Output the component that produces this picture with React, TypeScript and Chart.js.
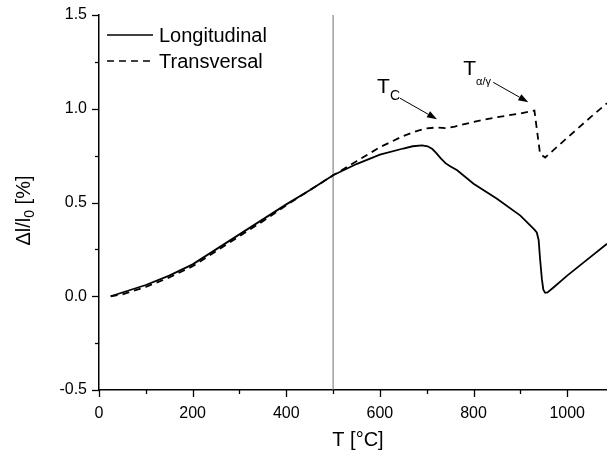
import React, { useEffect, useRef } from 'react';
import { Chart, registerables } from 'chart.js';
Chart.register(...registerables);

const FONT = '"Liberation Sans", Arial, sans-serif';

const seriesNames = ['Longitudinal', 'Transversal'];

const tempLong = [25, 50, 100, 150, 200, 250, 300, 350, 400, 450, 500, 550, 600, 650, 670, 690, 702, 712, 720, 730, 740, 750, 765, 800, 850, 900, 930, 935, 939, 942, 946, 949, 953, 958, 970, 1000, 1050, 1085];
const dilLong = [0.0, 0.02, 0.06, 0.11, 0.17, 0.25, 0.33, 0.41, 0.49, 0.565, 0.645, 0.705, 0.755, 0.788, 0.8, 0.805, 0.8, 0.785, 0.765, 0.735, 0.71, 0.693, 0.672, 0.6, 0.52, 0.43, 0.355, 0.34, 0.3, 0.2, 0.09, 0.035, 0.018, 0.02, 0.045, 0.11, 0.21, 0.28];

const tempTrans = [25, 50, 100, 150, 200, 250, 300, 350, 400, 450, 500, 550, 600, 650, 680, 700, 720, 740, 760, 800, 850, 900, 930, 942, 953, 1000, 1050, 1085];
const dilTrans = [0.0, 0.01, 0.05, 0.1, 0.16, 0.24, 0.32, 0.4, 0.485, 0.565, 0.645, 0.72, 0.795, 0.855, 0.882, 0.895, 0.9, 0.897, 0.905, 0.93, 0.955, 0.975, 0.99, 0.76, 0.74, 0.845, 0.955, 1.03];

const markerTemp = [500, 500];
const markerDil = [-0.5, 1.5];

const xMin = 0;
const xMax = 1085;
const yMin = -0.5;
const yMax = 1.5;
const xMinorStep = 100;
const yMinorStep = 0.25;
const xLabelStep = 200;
const yLabelStep = 0.5;

const xTitle = 'T [°C]';
const yTitleParts = ['Δl/l', '0', ' [%]'];

// annotation anchors in data units
const annotations = [
  { main: 'T', sub: 'C', subSize: 14, textX: 594, textY: 1.083, fromX: 643, fromY: 1.056, toX: 722, toY: 0.944 },
  { main: 'T', sub: 'α/γ', subSize: 11, textX: 778, textY: 1.179, fromX: 842, fromY: 1.141, toX: 917, toY: 1.035 },
];

const toPts = (xs: number[], ys: number[]) => xs.map((x, i) => ({ x, y: ys[i] }));
const isMultiple = (v: number, step: number) => Math.abs(v / step - Math.round(v / step)) < 1e-6;
const range = (a: number, b: number, s: number) => {
  const out: number[] = [];
  for (let i = 0; a + i * s <= b + 1e-9; i++) out.push(+(a + i * s).toFixed(6));
  return out;
};

const overlay = {
  id: 'overlay',
  afterDraw(chart: any) {
    const ctx = chart.ctx;
    const xs = chart.scales.x;
    const ys = chart.scales.y;
    const area = chart.chartArea;
    ctx.save();
    ctx.strokeStyle = '#000';
    ctx.lineWidth = 1.3;
    range(yMin, yMax, yMinorStep).forEach((v) => {
      const py = Math.round(ys.getPixelForValue(v)) + 0.5;
      const len = isMultiple(v, yLabelStep) ? 7 : 4;
      ctx.beginPath();
      ctx.moveTo(area.left, py);
      ctx.lineTo(area.left - len, py);
      ctx.stroke();
    });
    range(xMin, xMax, xMinorStep).forEach((v) => {
      const px = Math.round(xs.getPixelForValue(v)) + 0.5;
      const len = isMultiple(v, xLabelStep) ? 7 : 4;
      ctx.beginPath();
      ctx.moveTo(px, area.bottom);
      ctx.lineTo(px, area.bottom + len);
      ctx.stroke();
    });

    // legend
    ctx.fillStyle = '#000';
    ctx.font = '20px ' + FONT;
    ctx.textBaseline = 'middle';
    ctx.textAlign = 'left';
    chart.data.datasets.slice(0, 2).forEach((ds: any, i: number) => {
      const y = area.top + 20 + i * 26;
      ctx.save();
      ctx.lineWidth = 1.6;
      ctx.strokeStyle = ds.borderColor;
      ctx.setLineDash(ds.borderDash || []);
      ctx.beginPath();
      ctx.moveTo(area.left + 8, y);
      ctx.lineTo(area.left + 54, y);
      ctx.stroke();
      ctx.restore();
      ctx.fillText(ds.label, area.left + 60, y + 1);
    });

    // x title
    ctx.textAlign = 'center';
    ctx.textBaseline = 'middle';
    ctx.font = '20px ' + FONT;
    ctx.fillText(xTitle, (area.left + area.right) / 2 + 5, 440);

    // y title with subscript
    ctx.save();
    ctx.translate(24, (area.top + area.bottom) / 2 + 8);
    ctx.rotate(-Math.PI / 2);
    ctx.textBaseline = 'middle';
    ctx.textAlign = 'left';
    const big = '20px ' + FONT;
    const small = '14px ' + FONT;
    ctx.font = big;
    const w0 = ctx.measureText(yTitleParts[0]).width;
    const w2 = ctx.measureText(yTitleParts[2]).width;
    ctx.font = small;
    const w1 = ctx.measureText(yTitleParts[1]).width;
    let cx = -(w0 + w1 + w2) / 2;
    ctx.font = big;
    ctx.fillText(yTitleParts[0], cx, 0);
    cx += w0;
    ctx.font = small;
    ctx.fillText(yTitleParts[1], cx, 6);
    cx += w1;
    ctx.font = big;
    ctx.fillText(yTitleParts[2], cx, 0);
    ctx.restore();

    // annotations
    annotations.forEach((a) => {
      const tx = xs.getPixelForValue(a.textX);
      const ty = ys.getPixelForValue(a.textY);
      ctx.textAlign = 'left';
      ctx.textBaseline = 'alphabetic';
      ctx.font = '21px ' + FONT;
      ctx.fillText(a.main, tx, ty);
      const tw = ctx.measureText(a.main).width;
      ctx.font = a.subSize + 'px ' + FONT;
      ctx.fillText(a.sub, tx + tw, ty + (a.subSize > 12 ? 7 : 10));
      const x1 = xs.getPixelForValue(a.fromX);
      const y1 = ys.getPixelForValue(a.fromY);
      const x2 = xs.getPixelForValue(a.toX);
      const y2 = ys.getPixelForValue(a.toY);
      const ang = Math.atan2(y2 - y1, x2 - x1);
      const hl = 10;
      const hw = 3.5;
      const bx = x2 - hl * Math.cos(ang);
      const by = y2 - hl * Math.sin(ang);
      ctx.lineWidth = 1;
      ctx.strokeStyle = '#000';
      ctx.beginPath();
      ctx.moveTo(x1, y1);
      ctx.lineTo(bx, by);
      ctx.stroke();
      ctx.beginPath();
      ctx.moveTo(x2, y2);
      ctx.lineTo(bx + hw * Math.sin(ang), by - hw * Math.cos(ang));
      ctx.lineTo(bx - hw * Math.sin(ang), by + hw * Math.cos(ang));
      ctx.closePath();
      ctx.fill();
    });
    ctx.restore();
  },
};

export default function App() {
  const ref = useRef<HTMLCanvasElement | null>(null);
  useEffect(() => {
    if (!ref.current) return;
    const chart = new Chart(ref.current, {
      type: 'line',
      data: {
        datasets: [
          {
            label: seriesNames[0],
            data: toPts(tempLong, dilLong),
            borderColor: '#000',
            borderWidth: 1.8,
            pointRadius: 0,
            fill: false,
            tension: 0,
          },
          {
            label: seriesNames[1],
            data: toPts(tempTrans, dilTrans),
            borderColor: '#000',
            borderWidth: 1.8,
            borderDash: [7, 5],
            pointRadius: 0,
            fill: false,
            tension: 0,
          },
          {
            label: 'marker',
            data: toPts(markerTemp, markerDil),
            borderColor: '#707070',
            borderWidth: 1,
            pointRadius: 0,
            fill: false,
          },
        ],
      },
      options: {
        animation: false,
        responsive: false,
        parsing: false,
        layout: { padding: { top: 15, right: 0, left: 0, bottom: 0 } },
        plugins: { legend: { display: false }, tooltip: { enabled: false } },
        scales: {
          x: {
            type: 'linear',
            min: xMin,
            max: xMax,
            grid: { display: false },
            border: { display: true, color: '#000', width: 1.5 },
            afterBuildTicks: (s: any) => {
              s.ticks = range(xMin, 1000, xLabelStep).map((v) => ({ value: v }));
            },
            ticks: {
              autoSkip: false,
              maxRotation: 0,
              padding: 6,
              color: '#000',
              font: { family: FONT, size: 16 },
              callback: (v: any) => String(v),
            },
            afterFit: (s: any) => {
              s.height = 67;
              s.paddingLeft = 0;
              s.paddingRight = 0;
            },
          },
          y: {
            type: 'linear',
            min: yMin,
            max: yMax,
            grid: { display: false },
            border: { display: true, color: '#000', width: 1.5 },
            afterBuildTicks: (s: any) => {
              s.ticks = range(yMin, yMax, yLabelStep).map((v) => ({ value: v }));
            },
            ticks: {
              autoSkip: false,
              padding: 4,
              color: '#000',
              font: { family: FONT, size: 16 },
              callback: (v: any) => Number(v).toFixed(1),
            },
            afterFit: (s: any) => {
              s.width = 99;
              s.paddingTop = 0;
              s.paddingBottom = 0;
            },
          },
        },
      },
      plugins: [overlay],
    });
    return () => chart.destroy();
  }, []);
  return (
    <div style={{ position: 'fixed', left: 0, top: 0, width: 607, height: 457, background: '#fff' }}>
      <canvas ref={ref} width={607} height={457} style={{ width: 607, height: 457, display: 'block' }} />
    </div>
  );
}
